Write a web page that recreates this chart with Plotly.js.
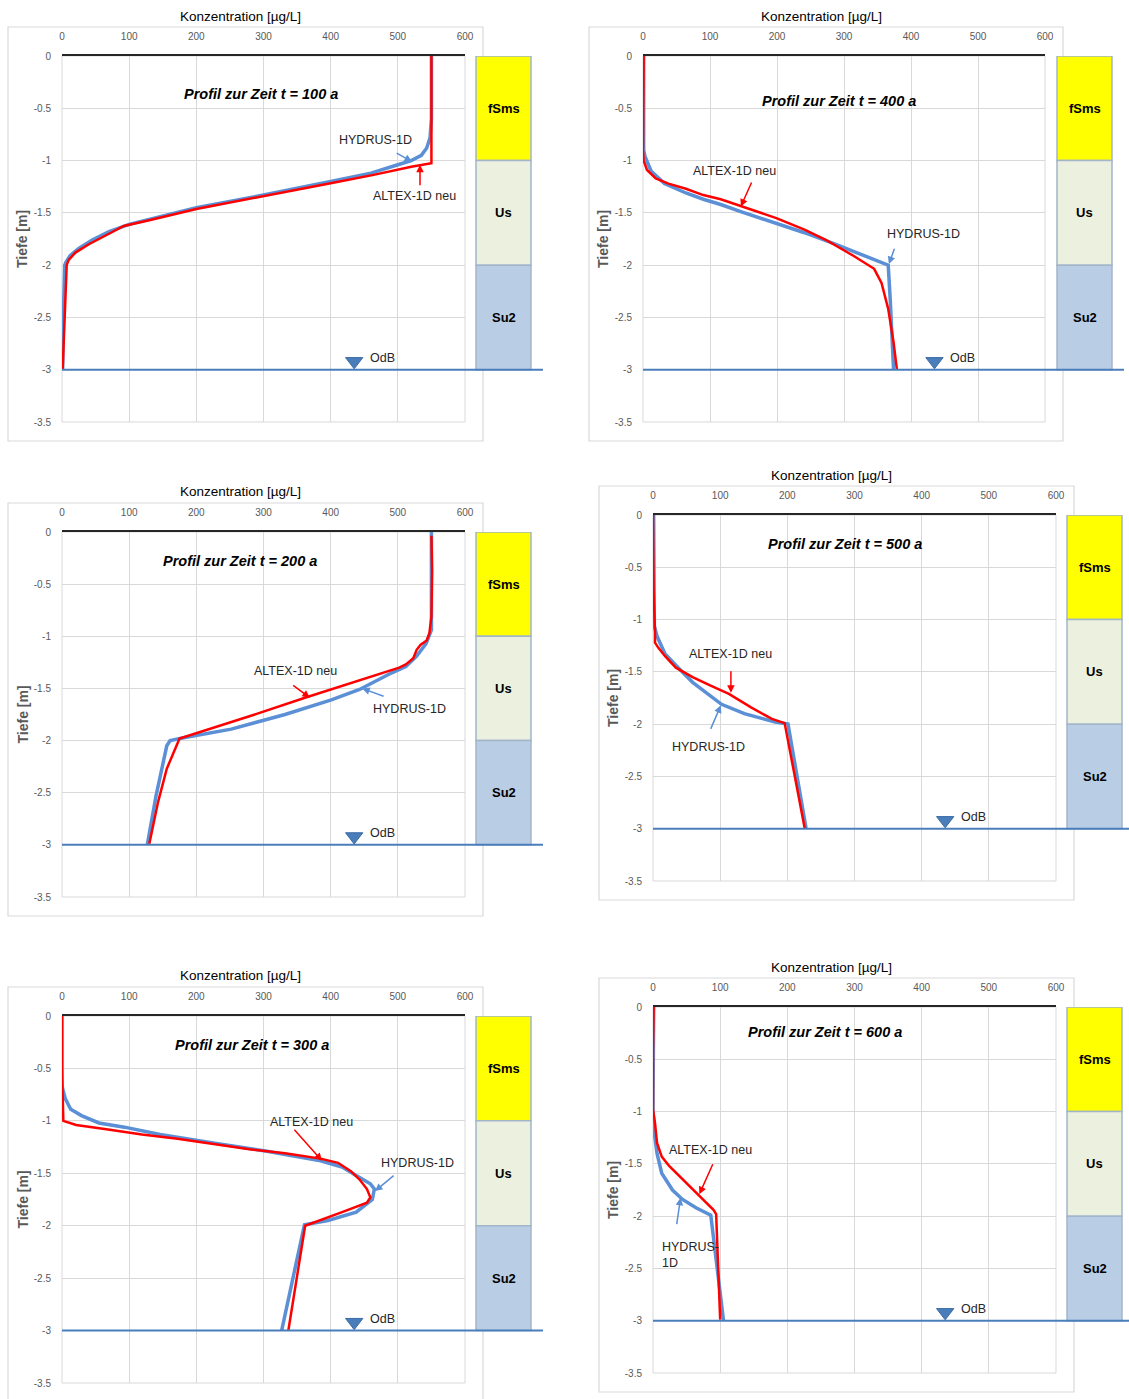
<!DOCTYPE html>
<html><head><meta charset="utf-8">
<script src="https://cdn.plot.ly/plotly-3.0.1.min.js"></script>
<style>html,body{margin:0;padding:0;background:#fff}#chart{width:1129px;height:1399px}</style>
</head><body><div id="chart"></div>
<script>
// ---------- data ----------
const xTickVals=[0,100,200,300,400,500,600];
const yTickVals=[0,-0.5,-1,-1.5,-2,-2.5,-3,-3.5];
const yTickText=['0','-0.5','-1','-1.5','-2','-2.5','-3','-3.5'];
const soilLayers=['fSms','Us','Su2'];
const soilTop=[0,-1,-2];
const soilBottom=[-1,-2,-3];
const gwLevel=-3;
const odbX=[435];
const odbY=[-2.92];
const times=[100,400,200,500,300,600];

const hydrus100C=[550,550,548,543,535,520,500,460,400,300,200,100,70,45,25,12,6,4,2,1];
const hydrus100Z=[0,-0.6,-0.78,-0.88,-0.95,-1.0,-1.04,-1.12,-1.2,-1.33,-1.45,-1.61,-1.68,-1.76,-1.84,-1.91,-1.97,-2.0,-2.5,-3.0];
const altex100C=[550,550,520,464,400,300,200,130,92,70,40,20,10,7,4,1];
const altex100Z=[0,-1.025,-1.06,-1.137,-1.216,-1.343,-1.463,-1.57,-1.625,-1.70,-1.80,-1.88,-1.95,-2.0,-2.5,-3.0];

const hydrus400C=[1,1,3,12,32,64,90,116,147,199,241,283,325,366,369,374];
const hydrus400Z=[0,-0.9,-0.96,-1.1,-1.22,-1.31,-1.37,-1.42,-1.49,-1.60,-1.69,-1.79,-1.90,-2.0,-2.33,-3.0];
const altex400C=[1,0,0,1,6,19,38,64,90,116,147,199,241,272,314,345,356,366,374,379];
const altex400Z=[0,-0.5,-0.9,-1.0,-1.09,-1.17,-1.22,-1.27,-1.33,-1.37,-1.44,-1.55,-1.66,-1.755,-1.91,-2.035,-2.17,-2.42,-2.74,-3.0];

const hydrus200C=[550,550,542,528,512,491,443,401,332,252,183,161,156,148,140,127];
const hydrus200Z=[0,-0.94,-1.07,-1.19,-1.29,-1.35,-1.51,-1.61,-1.75,-1.89,-1.97,-2.0,-2.05,-2.28,-2.53,-3.0];
const altex200C=[550,551,550,547,543,534,528,523,512,502,364,279,175,156,143,130];
const altex200Z=[-0.035,-0.37,-0.81,-0.97,-1.04,-1.08,-1.13,-1.21,-1.27,-1.30,-1.585,-1.767,-1.98,-2.27,-2.59,-2.99];

const hydrus500C=[1,2,6,18,39,59,102,136,182,201,228];
const hydrus500Z=[0,-1.06,-1.16,-1.33,-1.47,-1.60,-1.81,-1.90,-1.98,-2.0,-3.0];
const altex500C=[0,1,3,3,8,18,34,59,85,113,146,177,196,226];
const altex500Z=[0,-0.74,-1.12,-1.22,-1.27,-1.35,-1.46,-1.55,-1.63,-1.71,-1.84,-1.95,-1.99,-3.0];

const hydrus300C=[0,0,5,13,29,55,93,146,225,305,385,417,438,459,465,462,438,396,361,327];
const hydrus300Z=[0,-0.67,-0.79,-0.89,-0.95,-1.02,-1.06,-1.13,-1.21,-1.29,-1.38,-1.44,-1.52,-1.60,-1.65,-1.75,-1.87,-1.95,-1.99,-3.0];
const altex300C=[0,0,2,21,66,119,172,225,279,332,385,411,430,443,454,459,454,417,385,362,337];
const altex300Z=[0,-0.5,-1.0,-1.04,-1.08,-1.13,-1.17,-1.22,-1.27,-1.31,-1.36,-1.40,-1.48,-1.56,-1.65,-1.73,-1.78,-1.87,-1.95,-2.0,-3.0];

const hydrus600C=[1,0,2,6,13,29,44,64,86,105];
const hydrus600Z=[0,-0.98,-1.21,-1.40,-1.59,-1.75,-1.84,-1.92,-1.99,-3.0];
const altex600C=[1,0,0,3,6,13,24,44,70,90,94,100];
const altex600Z=[0,-0.41,-0.98,-1.11,-1.30,-1.43,-1.52,-1.65,-1.81,-1.94,-1.98,-2.99];

// ---------- layout / style ----------
const W=1129,H=1399;
const FONT='"Liberation Sans",Arial,sans-serif';
const HCOL='#5b8fd6', ACOL='#ff0000', GWCOL='#4a7ebb';
const soilColors=['#FFFF00','#EBF1DE','#B9CDE5'];
const px=v=>v/W, py=v=>1-v/H;
const panelBoxes=[[62,465,56,422],[643,1045,56,422],[62,465,532,897],[653,1056,515,881],[62,465,1016,1383],[653,1056,1007,1373]];

const series=[
  [hydrus100C,hydrus100Z,altex100C,altex100Z],
  [hydrus400C,hydrus400Z,altex400C,altex400Z],
  [hydrus200C,hydrus200Z,altex200C,altex200Z],
  [hydrus500C,hydrus500Z,altex500C,altex500Z],
  [hydrus300C,hydrus300Z,altex300C,altex300Z],
  [hydrus600C,hydrus600Z,altex600C,altex600Z]
];
const titlePos=[[296,-0.36],[292,-0.43],[265,-0.28],[286,-0.28],[283,-0.28],[256,-0.24]];
// [text, textX, textY, xanchor, color, tailX, tailY, tipX, tipY]
const labelSpecs=[
  [['HYDRUS-1D',467,-0.80,'center',HCOL,496,-0.92,521,-1.01],['ALTEX-1D neu',525,-1.34,'center',ACOL,533,-1.25,533,-1.04]],
  [['ALTEX-1D neu',136,-1.10,'center',ACOL,163,-1.195,146,-1.44],['HYDRUS-1D',419,-1.70,'center',HCOL,376,-1.83,367,-1.99]],
  [['ALTEX-1D neu',347,-1.33,'center',ACOL,342,-1.46,369,-1.59],['HYDRUS-1D',517,-1.695,'center',HCOL,481,-1.58,447,-1.50]],
  [['ALTEX-1D neu',116,-1.33,'center',ACOL,116,-1.48,116,-1.70],['HYDRUS-1D',82,-2.22,'center',HCOL,85,-2.06,101,-1.82]],
  [['ALTEX-1D neu',372,-1.01,'center',ACOL,344,-1.07,387,-1.38],['HYDRUS-1D',529,-1.40,'center',HCOL,496,-1.51,466,-1.67]],
  [['ALTEX-1D neu',85,-1.37,'center',ACOL,90,-1.49,69,-1.79],['HYDRUS-<br>1D',10,-2.37,'left',HCOL,35,-2.09,41,-1.825]]
];

const traces=[], shapes=[], annotations=[];
const layout={width:W,height:H,margin:{l:0,r:0,t:0,b:0},paper_bgcolor:'#fff',plot_bgcolor:'#fff',
  showlegend:false,hovermode:false,font:{family:FONT,color:'#262626'}};

panelBoxes.forEach((b,i)=>{
  const n=i+1, sx=n===1?'':String(n);
  const xa='x'+sx, ya='y'+sx;
  const [L,R,T,B]=b;
  layout['xaxis'+sx]={domain:[px(L),px(R)],anchor:ya,side:'top',range:[0,600],tickvals:xTickVals,
    showgrid:true,gridcolor:'#d9d9d9',gridwidth:1,zeroline:false,showline:true,linecolor:'#262626',linewidth:2.5,
    ticks:'outside',ticklen:10,tickcolor:'rgba(0,0,0,0)',tickfont:{family:FONT,size:10,color:'#595959'},fixedrange:true};
  layout['yaxis'+sx]={domain:[py(B),py(T)],anchor:xa,range:[-3.5,0],tickvals:yTickVals,ticktext:yTickText,
    showgrid:true,gridcolor:'#d9d9d9',gridwidth:1,zeroline:false,showline:false,
    ticks:'outside',ticklen:8,tickcolor:'rgba(0,0,0,0)',tickfont:{family:FONT,size:10,color:'#595959'},fixedrange:true};
  const [hC,hZ,aC,aZ]=series[i];
  traces.push({type:'scatter',mode:'lines',x:hC,y:hZ,xaxis:xa,yaxis:ya,line:{color:HCOL,width:3.5}});
  traces.push({type:'scatter',mode:'lines',x:aC,y:aZ,xaxis:xa,yaxis:ya,line:{color:ACOL,width:2.5}});
  traces.push({type:'scatter',mode:'markers',x:odbX,y:odbY,xaxis:xa,yaxis:ya,
    marker:{symbol:'triangle-down',size:15,color:GWCOL,line:{color:'#3a6aa5',width:1}}});
  // outer chart box
  shapes.push({type:'rect',xref:'paper',yref:'paper',x0:px(L-54),x1:px(R+18),y0:py(B+19),y1:py(T-29),
    line:{color:'#d9d9d9',width:1.2},layer:'below'});
  // plot border
  shapes.push({type:'rect',xref:xa+' domain',yref:ya+' domain',x0:0,x1:1,y0:0,y1:1,line:{color:'#d9d9d9',width:1},layer:'below'});
  // soil column
  soilLayers.forEach((s,k)=>{
    shapes.push({type:'rect',xref:'paper',yref:ya,x0:px(L+414),x1:px(L+469),y0:soilBottom[k],y1:soilTop[k],
      fillcolor:soilColors[k],line:{color:'#a3b5c9',width:1.5},layer:'below'});
    annotations.push({xref:'paper',yref:ya,x:px(L+441.5),y:(soilTop[k]+soilBottom[k])/2,text:'<b>'+s+'</b>',
      xanchor:'center',yanchor:'middle',showarrow:false,font:{family:FONT,size:13,color:'#000'}});
  });
  // groundwater line
  shapes.push({type:'line',xref:'paper',yref:ya,x0:px(L),x1:px(Math.min(L+481,W)),y0:gwLevel,y1:gwLevel,
    line:{color:GWCOL,width:2}});
  annotations.push({xref:xa,yref:ya,x:odbX[0]+20,y:odbY[0]+0.03,text:'OdB',xanchor:'left',yanchor:'middle',showarrow:false,
    font:{family:FONT,size:12.5,color:'#262626'}});
  // axis titles
  annotations.push({xref:'paper',yref:'paper',x:px(L+178),y:py(T-40),text:'Konzentration [µg/L]',
    xanchor:'center',yanchor:'middle',showarrow:false,font:{family:FONT,size:13.5,color:'#000'}});
  annotations.push({xref:'paper',yref:'paper',x:px(L-40),y:py((T+B)/2),text:'<b>Tiefe [m]</b>',textangle:-90,
    xanchor:'center',yanchor:'middle',showarrow:false,
    font:{family:FONT,size:14,color:'#595959'}});
  // panel title
  annotations.push({xref:xa,yref:ya,x:titlePos[i][0],y:titlePos[i][1],text:'<b><i>Profil zur Zeit t = '+times[i]+' a</i></b>',
    xanchor:'center',yanchor:'middle',showarrow:false,font:{family:FONT,size:14.5,color:'#000'}});
  // curve labels + arrows
  labelSpecs[i].forEach(sp=>{
    const [txt,tx,ty,anc,col,ax,ay,tipx,tipy]=sp;
    annotations.push({xref:xa,yref:ya,x:tx,y:ty,text:txt,xanchor:anc,yanchor:'middle',align:'left',showarrow:false,
      font:{family:FONT,size:12.5,color:'#262626'}});
    annotations.push({xref:xa,yref:ya,x:tipx,y:tipy,ax:ax,ay:ay,axref:xa,ayref:ya,text:'',showarrow:true,
      arrowhead:2,arrowsize:1,arrowwidth:1.5,arrowcolor:col,standoff:0});
  });
});
layout.shapes=shapes;
layout.annotations=annotations;
Plotly.newPlot('chart',traces,layout,{staticPlot:true,displayModeBar:false});
</script></body></html>
